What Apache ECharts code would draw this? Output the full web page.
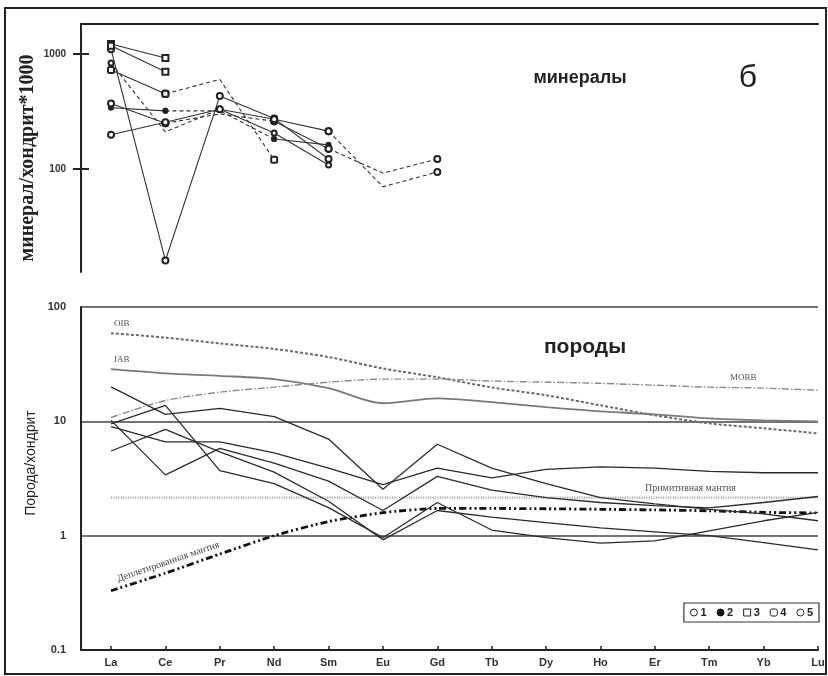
<!DOCTYPE html>
<html>
<head>
<meta charset="utf-8">
<script src="https://cdn.jsdelivr.net/npm/echarts@6/dist/echarts.min.js"></script>
<style>
  html, body { margin: 0; padding: 0; background: #fff; }
  #chart { width: 828px; height: 676px; }
</style>
</head>
<body>
<div id="chart"></div>
<script>
// Rare-earth elements along the x axis
const ELEMENTS = ['La', 'Ce', 'Pr', 'Nd', 'Sm', 'Eu', 'Gd', 'Tb', 'Dy', 'Ho', 'Er', 'Tm', 'Yb', 'Lu'];
const MINERAL_TICKS = [100, 1000];
const LEGEND_GROUPS = ['1', '2', '3', '4', '5'];

// Minerals (La..Gd), mineral/chondrite*1000; *Gap arrays hold interpolated vertices
const grain1 = [1100, 16, 430, 275, 122, null, null];
const grain2 = [1220, 920, null, null, null, null, null];
const grain3 = [1180, 700, null, null, null, null, null];
const grain4 = [725, 450, null, 120, null, null, null];
const grain4Gap = [null, null, 600, null, null, null, null];
const grain5 = [835, null, 330, 205, 108, null, null];
const grain5Gap = [null, 210, null, null, null, null, null];
const grain6 = [340, 320, null, 182, 162, null, null];
const grain6Gap = [null, null, 320, null, null, null, null];
const grain7 = [370, 250, null, 260, 150, null, 122];
const grain7Gap = [null, null, 300, null, null, 92, null];
const grain8 = [198, 255, 330, 270, 213, null, 94];
const grain8Gap = [null, null, null, null, null, 70, null];

// Rocks and reference reservoirs (La..Lu), rock/chondrite
const rock1 = [20, 11.5, 13, 11, 7, 2.55, 6.3, 3.9, 2.85, 2.15, 1.9, 1.7, 1.55, 1.35];
const rock2 = [9.5, 13.8, 3.7, 2.85, 1.76, 0.96, 1.95, 1.12, 0.96, 0.86, 0.9, 1.1, 1.35, 1.6];
const rock3 = [10.2, 3.4, 5.8, 4.3, 3.0, 1.66, 3.3, 2.5, 2.15, 1.95, 1.83, 1.75, 1.95, 2.2];
const rock4 = [9, 6.6, 6.6, 5.3, 3.9, 2.8, 3.9, 3.2, 3.8, 4.0, 3.9, 3.65, 3.55, 3.55];
const rock5 = [5.5, 8.5, 5.4, 3.6, 2.0, 0.92, 1.66, 1.45, 1.3, 1.17, 1.08, 1.0, 0.87, 0.75];
const oib = [59, 54, 48, 43, 36.5, 29, 24.3, 19.8, 16.9, 13.8, 11.3, 9.6, 8.7, 7.85];
const iab = [28.6, 26.3, 25, 23.4, 19.5, 14.4, 15.9, 14.7, 13.3, 12.2, 11.5, 10.6, 10.2, 10.0];
const morb = [10.8, 15.2, 18, 19.9, 22, 23.4, 23.4, 22.5, 22, 21.5, 20.7, 19.9, 19.5, 18.7];
const primitiveMantle = [2.15, 2.15, 2.15, 2.15, 2.15, 2.15, 2.15, 2.15, 2.15, 2.15, 2.15, 2.15, 2.15, 2.15];
const depletedMantle = [0.33, 0.47, 0.69, 1.0, 1.33, 1.59, 1.73, 1.73, 1.72, 1.7, 1.68, 1.65, 1.6, 1.58];

const grains = [
  { group: '1', values: grain1, gaps: null },
  { group: '3', values: grain2, gaps: null },
  { group: '3', values: grain3, gaps: null },
  { group: '4', values: grain4, gaps: grain4Gap },
  { group: '5', values: grain5, gaps: grain5Gap },
  { group: '2', values: grain6, gaps: grain6Gap },
  { group: '1', values: grain7, gaps: grain7Gap },
  { group: '1', values: grain8, gaps: grain8Gap }
];

const GROUP_SYMBOL = {
  '1': { symbol: 'emptyCircle', size: 6 },
  '2': { symbol: 'circle', size: 6 },
  '3': { symbol: 'emptyRect', size: 6 },
  '4': { symbol: 'emptyRoundRect', size: 6 },
  '5': { symbol: 'emptyCircle', size: 5 }
};

const SERIF = "'Liberation Serif', 'DejaVu Serif', serif";
const SANS = "'Liberation Sans', Arial, sans-serif";

// Split each mineral profile into solid runs (measured) and dashed runs (through interpolated points)
function grainSeries(g) {
  const out = [];
  const n = g.values.length;
  const val = i => g.values[i] != null ? g.values[i] : (g.gaps ? g.gaps[i] : null);
  const isGap = i => g.values[i] == null && g.gaps && g.gaps[i] != null;
  let run = null;
  const flush = () => { if (run && run.idx.length > 1) out.push(run); run = null; };
  for (let i = 0; i < n - 1; i++) {
    if (val(i) == null || val(i + 1) == null) { flush(); continue; }
    const dashed = isGap(i) || isGap(i + 1);
    if (!run || run.dashed !== dashed) { flush(); run = { dashed, idx: [i] }; }
    run.idx.push(i + 1);
  }
  flush();
  const sym = GROUP_SYMBOL[g.group];
  return out.map(r => ({
    name: g.group,
    type: 'line',
    xAxisIndex: 0,
    yAxisIndex: 0,
    symbol: sym.symbol,
    symbolSize: sym.size,
    showAllSymbol: true,
    silent: true,
    z: 3,
    lineStyle: { color: '#333', width: 1.1, type: r.dashed ? [4, 3] : 'solid' },
    itemStyle: { color: '#222', borderWidth: 1 },
    data: r.idx.map(i => isGap(i)
      ? { value: [i, val(i)], symbol: 'none' }
      : { value: [i, val(i)] })
  }));
}

function rockSeries(values, lineStyle, smooth) {
  return {
    type: 'line',
    xAxisIndex: 1,
    yAxisIndex: 2,
    symbol: 'none',
    silent: true,
    smooth: smooth || false,
    lineStyle: lineStyle,
    data: values.map((v, i) => [i, v])
  };
}

const series = [];
grains.forEach(g => series.push(...grainSeries(g)));
series.push(rockSeries(oib, { color: '#6a6a6a', width: 2, type: [3, 2] }, 0.3));
series.push(rockSeries(iab, { color: '#7a7a7a', width: 1.8 }, 0.3));
series.push(rockSeries(morb, { color: '#8a8a8a', width: 1.4, type: [7, 2, 1.5, 2] }, 0.3));
series.push(rockSeries(primitiveMantle, { color: '#a8a8a8', width: 2.2, type: [1.2, 1.2] }));
series.push(rockSeries(depletedMantle, { color: '#111', width: 2.8, type: [7, 3, 2, 3, 2, 3] }, 0.2));
[rock1, rock2, rock3, rock4, rock5].forEach(r =>
  series.push(rockSeries(r, { color: '#2b2b2b', width: 1.3 })));

const xIdx = ELEMENTS.map((_, i) => i);
const xMin = -0.552;

const chart = echarts.init(document.getElementById('chart'), null, { renderer: 'canvas' });
chart.setOption({
  animation: false,
  backgroundColor: '#fff',
  grid: [
    { left: 81, right: 10, top: 24, height: 248 },
    { left: 81, right: 10, top: 307, bottom: 26 }
  ],
  xAxis: [
    {
      gridIndex: 0, type: 'value', min: xMin, max: 13, position: 'top',
      axisLine: { show: true, onZero: false, lineStyle: { color: '#222', width: 2 } },
      axisTick: { show: false }, axisLabel: { show: false }, splitLine: { show: false }
    },
    {
      gridIndex: 1, type: 'value', min: xMin, max: 13,
      axisLine: { show: true, onZero: false, lineStyle: { color: '#222', width: 2 } },
      axisTick: { show: true, inside: true, length: 4, customValues: xIdx, lineStyle: { color: '#222', width: 1.5 } },
      axisLabel: {
        customValues: xIdx, margin: 7,
        formatter: v => ELEMENTS[Math.round(v)] || '',
        color: '#333', fontFamily: SANS, fontWeight: 'bold', fontSize: 11
      },
      splitLine: { show: false }
    }
  ],
  yAxis: [
    {
      gridIndex: 0, type: 'log', logBase: 10, min: 12.7, max: 1820, position: 'left', offset: 0,
      axisLine: { show: true, onZero: false, lineStyle: { color: '#222', width: 2 } },
      axisTick: { show: true, length: 8, customValues: MINERAL_TICKS, lineStyle: { color: '#222', width: 2 } },
      axisLabel: {
        customValues: MINERAL_TICKS, margin: 15,
        formatter: v => String(Math.round(v)),
        color: '#333', fontFamily: SANS, fontWeight: 'bold', fontSize: 10
      },
      splitLine: { show: false }
    },
    {
      gridIndex: 0, type: 'log', logBase: 10, min: 12.7, max: 1820, position: 'left', offset: 0,
      axisLine: { show: false, onZero: false },
      axisTick: { show: true, inside: true, length: 8, customValues: MINERAL_TICKS, lineStyle: { color: '#222', width: 2 } },
      axisLabel: { show: false },
      splitLine: { show: false }
    },
    {
      gridIndex: 1, type: 'log', logBase: 10, min: 0.1, max: 100,
      axisLine: { show: true, onZero: false, lineStyle: { color: '#222', width: 2 } },
      axisTick: { show: false },
      axisLabel: {
        margin: 15, color: '#333', fontFamily: SANS, fontWeight: 'bold', fontSize: 11,
        formatter: v => String(v)
      },
      splitLine: { show: true, lineStyle: { color: '#444', width: 1.6 } }
    }
  ],
  legend: {
    data: LEGEND_GROUPS.map(g => ({
      name: g,
      icon: g === '3' ? 'rect' : (g === '4' ? 'roundRect' : 'circle'),
      itemStyle: g === '2'
        ? { color: '#111', borderColor: '#111', borderWidth: 1 }
        : { color: '#fff', borderColor: '#222', borderWidth: 1 }
    })),
    selectedMode: false,
    orient: 'horizontal',
    right: 9, top: 603,
    itemWidth: 7, itemHeight: 7, itemGap: 10,
    padding: [4, 6],
    borderColor: '#333', borderWidth: 1.2,
    textStyle: { color: '#222', fontFamily: SANS, fontWeight: 'bold', fontSize: 11, padding: [0, 0, 0, -2] }
  },
  graphic: [
    {
      type: 'rect', silent: true, z: 100,
      shape: { x: 5, y: 8, width: 821, height: 666 },
      style: { fill: 'none', stroke: '#222', lineWidth: 2 }
    },
    {
      type: 'text', x: 28, y: 158, rotation: Math.PI / 2, silent: true,
      style: { text: 'минерал/хондрит*1000', font: 'bold 20px ' + SERIF, fill: '#222', align: 'center', verticalAlign: 'middle' }
    },
    {
      type: 'text', x: 31, y: 463, rotation: Math.PI / 2, silent: true,
      style: { text: 'Порода/хондрит', font: '14px ' + SANS, fill: '#222', align: 'center', verticalAlign: 'middle' }
    },
    {
      type: 'text', x: 580, y: 78, silent: true,
      style: { text: 'минералы', font: 'bold 18px ' + SANS, fill: '#222', align: 'center', verticalAlign: 'middle' }
    },
    {
      type: 'text', x: 748, y: 78, silent: true,
      style: { text: 'б', font: '32px ' + SANS, fill: '#222', align: 'center', verticalAlign: 'middle' }
    },
    {
      type: 'text', x: 585, y: 347, silent: true,
      style: { text: 'породы', font: 'bold 21px ' + SANS, fill: '#222', align: 'center', verticalAlign: 'middle' }
    },
    {
      type: 'text', x: 114, y: 324, silent: true,
      style: { text: 'OIB', font: '9px ' + SERIF, fill: '#555', align: 'left', verticalAlign: 'middle' }
    },
    {
      type: 'text', x: 114, y: 360, silent: true,
      style: { text: 'IAB', font: '9px ' + SERIF, fill: '#555', align: 'left', verticalAlign: 'middle' }
    },
    {
      type: 'text', x: 730, y: 378, silent: true,
      style: { text: 'MORB', font: '9px ' + SERIF, fill: '#555', align: 'left', verticalAlign: 'middle' }
    },
    {
      type: 'text', x: 645, y: 488, silent: true,
      style: { text: 'Примитивная мантия', font: '10px ' + SERIF, fill: '#555', align: 'left', verticalAlign: 'middle' }
    },
    {
      type: 'text', x: 119, y: 584, rotation: 0.33, silent: true,
      style: { text: 'Деплетированная мантия', font: '10px ' + SERIF, fill: '#444', align: 'left', verticalAlign: 'bottom' }
    }
  ],
  series: series
});
</script>
</body>
</html>
